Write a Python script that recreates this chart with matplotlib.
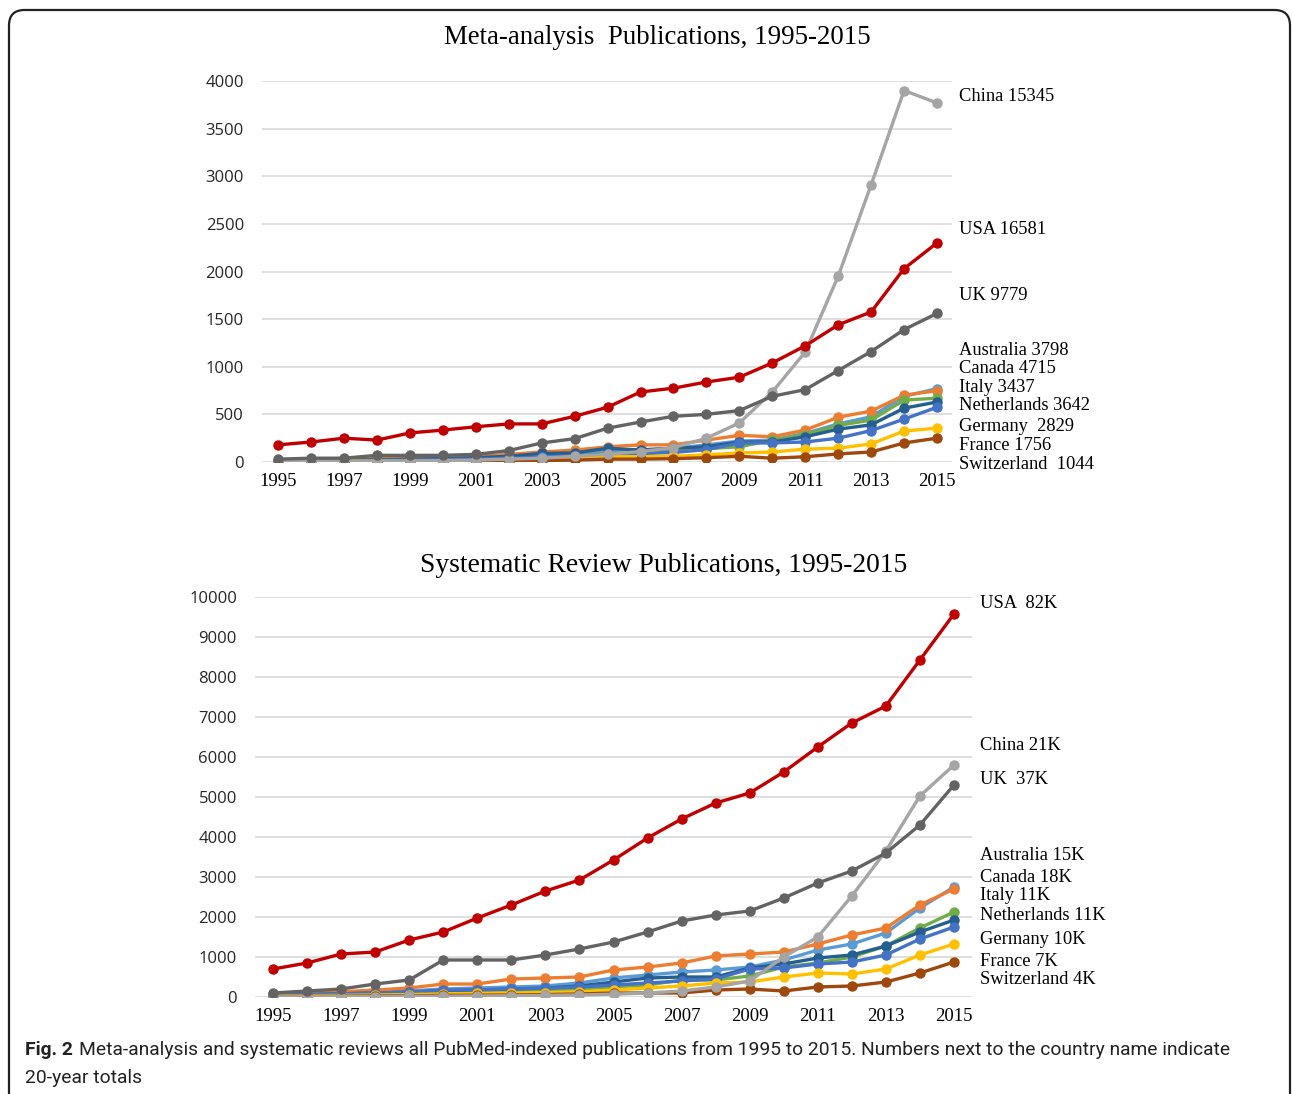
import matplotlib
matplotlib.use('Agg')
import matplotlib.pyplot as plt
from matplotlib.patches import FancyBboxPatch

# DATA
years = list(range(1995, 2016))
countries = ['USA', 'China', 'UK', 'Australia', 'Canada', 'Italy',
             'Netherlands', 'Germany', 'France', 'Switzerland']

usa_ma = [180, 210, 250, 230, 305, 335, 370, 400, 400, 480, 575, 735, 775, 840, 890, 1040, 1220, 1440, 1575, 2030, 2300]
china_ma = [5, 5, 5, 10, 10, 15, 20, 30, 40, 60, 80, 110, 150, 250, 410, 735, 1155, 1950, 2910, 3900, 3770]
uk_ma = [30, 40, 40, 70, 70, 70, 80, 120, 200, 245, 355, 420, 480, 500, 540, 690, 760, 960, 1160, 1390, 1560]
australia_ma = [10, 10, 15, 20, 25, 30, 40, 50, 70, 80, 120, 130, 140, 180, 220, 230, 300, 400, 475, 690, 770]
canada_ma = [15, 20, 25, 35, 40, 50, 60, 80, 105, 125, 160, 180, 180, 230, 280, 265, 335, 470, 535, 700, 750]
italy_ma = [5, 5, 10, 15, 15, 20, 25, 30, 40, 60, 90, 90, 110, 140, 160, 230, 285, 385, 440, 650, 670]
netherlands_ma = [10, 15, 20, 25, 30, 35, 45, 60, 90, 95, 145, 125, 145, 160, 210, 210, 265, 345, 390, 565, 630]
germany_ma = [10, 10, 15, 20, 20, 25, 30, 40, 50, 60, 80, 90, 100, 130, 200, 200, 210, 250, 330, 450, 575]
france_ma = [5, 5, 10, 10, 10, 15, 15, 20, 25, 30, 55, 55, 60, 75, 95, 105, 135, 145, 190, 325, 355]
switzerland_ma = [2, 3, 4, 5, 5, 8, 10, 12, 15, 20, 30, 30, 35, 45, 60, 40, 55, 85, 105, 200, 250]

usa_sr = [700, 850, 1075, 1125, 1425, 1625, 1975, 2300, 2650, 2925, 3425, 3975, 4450, 4850, 5100, 5625, 6250, 6850, 7275, 8425, 9575]
china_sr = [5, 5, 10, 10, 15, 20, 25, 30, 40, 50, 70, 100, 150, 250, 400, 1000, 1500, 2525, 3650, 5025, 5800]
uk_sr = [100, 150, 200, 325, 425, 925, 925, 925, 1050, 1200, 1375, 1625, 1900, 2050, 2150, 2475, 2850, 3150, 3600, 4300, 5300]
australia_sr = [60, 80, 100, 120, 150, 200, 225, 250, 275, 350, 475, 550, 625, 675, 750, 925, 1175, 1325, 1600, 2225, 2750]
canada_sr = [80, 100, 130, 175, 225, 325, 325, 450, 475, 500, 675, 750, 850, 1025, 1075, 1125, 1325, 1550, 1725, 2300, 2700]
italy_sr = [20, 30, 40, 60, 80, 100, 120, 150, 180, 200, 250, 300, 425, 425, 525, 750, 850, 1000, 1275, 1725, 2125]
netherlands_sr = [40, 60, 80, 100, 120, 150, 175, 200, 225, 275, 375, 475, 500, 500, 725, 825, 975, 1050, 1275, 1625, 1925]
germany_sr = [40, 60, 80, 100, 125, 175, 180, 200, 220, 250, 300, 350, 400, 450, 700, 725, 825, 875, 1050, 1450, 1750]
france_sr = [20, 30, 40, 50, 60, 80, 90, 100, 110, 130, 175, 225, 275, 350, 375, 500, 600, 575, 700, 1050, 1325]
switzerland_sr = [10, 15, 20, 25, 30, 40, 45, 50, 60, 75, 100, 100, 100, 175, 200, 150, 250, 275, 375, 600, 875]

labels_ma = ['USA 16581', 'China 15345', 'UK 9779', 'Australia 3798', 'Canada 4715',
             'Italy 3437', 'Netherlands 3642', 'Germany  2829', 'France 1756', 'Switzerland  1044']
labels_sr = ['USA  82K', 'China 21K', 'UK  37K', 'Australia 15K', 'Canada 18K',
             'Italy 11K', 'Netherlands 11K', 'Germany 10K', 'France 7K', 'Switzerland 4K']

colors = {'USA': '#C00000', 'China': '#A5A5A5', 'UK': '#636363', 'Australia': '#5B9BD5',
          'Canada': '#ED7D31', 'Italy': '#70AD47', 'Netherlands': '#255E91',
          'Germany': '#4472C4', 'France': '#FFC000', 'Switzerland': '#9E480E'}

series_ma = [usa_ma, china_ma, uk_ma, australia_ma, canada_ma, italy_ma,
             netherlands_ma, germany_ma, france_ma, switzerland_ma]
series_sr = [usa_sr, china_sr, uk_sr, australia_sr, canada_sr, italy_sr,
             netherlands_sr, germany_sr, france_sr, switzerland_sr]

# label placement (data units on y axis, layout only)
label_y_ma = [2436, 3833, 1743, 1166, 977, 777, 588, 368, 168, -21]
label_y_sr = [9825, 6275, 5450, 3550, 3000, 2525, 2025, 1425, 900, 450]

W, H = 1292, 1094
fig = plt.figure(figsize=(W / 100, H / 100), dpi=100)
serif = 'Liberation Serif'


def draw(ax, series, labels, label_y, ymax, ystep, xlim, title, title_x, title_y, title_size, label_dx):
    order = [3, 4, 5, 6, 7, 8, 9, 1, 2, 0]
    for i in order:
        c = colors[countries[i]]
        ax.plot(years, series[i], color=c, lw=2.4, marker='o', ms=6.5, zorder=3)
    ax.set_xlim(*xlim)
    ax.set_ylim(0, ymax)
    ax.set_yticks(range(0, ymax + 1, ystep))
    ax.set_xticks(years[::2])
    ax.grid(axis='y', color='#D9D9D9', lw=1.2, zorder=0)
    for s in ax.spines.values():
        s.set_visible(False)
    ax.tick_params(length=0)
    ax.tick_params(axis='x', pad=8)
    ax.tick_params(axis='y', pad=13)
    for t in ax.get_xticklabels():
        t.set_fontfamily(serif)
        t.set_fontsize(13.5)
    for t in ax.get_yticklabels():
        t.set_fontfamily('Open Sans')
        t.set_fontsize(12)
        t.set_color('#262626')
    for lab, yv in zip(labels, label_y):
        ax.annotate(lab, xy=(1, yv), xycoords=('axes fraction', 'data'),
                    xytext=(label_dx, 0), textcoords='offset points',
                    va='center', ha='left', fontfamily=serif, fontsize=13.3)
    fig.text(title_x / W, 1 - title_y / H, title, ha='center', va='center',
             fontfamily=serif, fontsize=title_size)


ax1 = fig.add_axes([262 / W, 1 - 462 / H, 690 / W, 381 / H])
draw(ax1, series_ma, labels_ma, label_y_ma, 4000, 500, (1994.51, 2015.455),
     'Meta-analysis  Publications, 1995-2015', 657, 38, 19.4, 5)

ax2 = fig.add_axes([255 / W, 1 - 997 / H, 717 / W, 400 / H])
draw(ax2, series_sr, labels_sr, label_y_sr, 10000, 1000, (1994.47, 2015.53),
     'Systematic Review Publications, 1995-2015', 664, 565, 19.8, 6)

# frame
frame = FancyBboxPatch((9 / W, -20 / H), 1281 / W, (H - 10 + 20) / H,
                       boxstyle='round,pad=0,rounding_size=0.012',
                       transform=fig.transFigure, fill=False, lw=1.6,
                       ec='#222222', mutation_aspect=W / H)
fig.patches.append(frame)

cap_font = 'Roboto'
fig.text(25 / W, 1 - 1050 / H, 'Fig. 2', fontfamily=cap_font, fontsize=13.9,
         fontweight='bold', color='#222222', va='center')
fig.text(79 / W, 1 - 1050 / H,
         'Meta-analysis and systematic reviews all PubMed-indexed publications from 1995 to 2015. '
         'Numbers next to the country name indicate',
         fontfamily=cap_font, fontsize=13.9, color='#222222', va='center')
fig.text(25 / W, 1 - 1078 / H, '20-year totals', fontfamily=cap_font, fontsize=13.9,
         color='#222222', va='center')

fig.savefig('out.png', dpi=100)
